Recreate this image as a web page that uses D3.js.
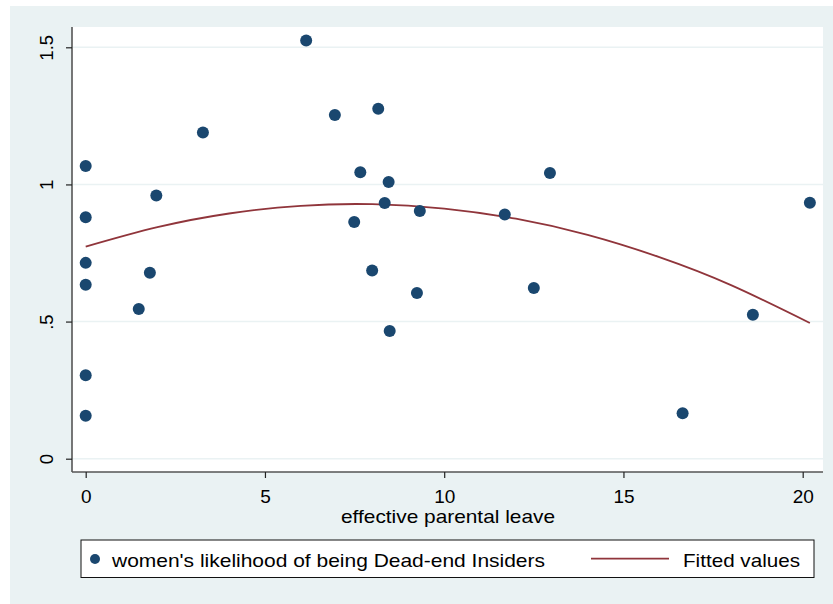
<!DOCTYPE html>
<html>
<head>
<meta charset="utf-8">
<script src="https://cdn.jsdelivr.net/npm/d3@7"></script>
<style>
  body { margin: 0; background: #fff; }
  text { font-family: "Liberation Sans", Arial, sans-serif; fill: #000; }
</style>
</head>
<body>
<div id="app"></div>
<script>
// scatter: effective parental leave vs likelihood
const leave = [0, 0, 0, 0, 0, 0, 1.48, 1.79, 1.97, 3.27, 6.15, 6.95, 7.49, 7.66, 7.99, 8.16,
  8.34, 8.45, 8.48, 9.24, 9.32, 11.69, 12.5, 12.95, 16.65, 18.61, 20.2];
const likelihood = [1.067, 0.88, 0.714, 0.634, 0.304, 0.157, 0.546, 0.678, 0.96, 1.189, 1.525, 1.253,
  0.863, 1.044, 0.686, 1.276, 0.932, 1.009, 0.466, 0.604, 0.903, 0.89, 0.622, 1.042, 0.166, 0.525, 0.933];

// fitted values (quadratic fit)
const fitX = [0, 2, 4, 6, 8, 10, 12, 14, 16, 18, 20.2];
const fitY = [0.773, 0.844, 0.894, 0.922, 0.928, 0.912, 0.875, 0.816, 0.735, 0.633, 0.495];

const xTicks = [0, 5, 10, 15, 20];
const yTicks = [0, 0.5, 1, 1.5];
const yTickLabels = ['0', '.5', '1', '1.5'];

const scatterLabel = "women's likelihood of being Dead-end Insiders";
const fitLabel = 'Fitted values';
const xTitle = 'effective parental leave';

const width = 833;
const height = 604;
const navy = '#1a476f';
const maroon = '#90353b';
const bg = '#eaf2f3';

const svg = d3.create('svg').attr('width', width).attr('height', height);

// graph region
svg.append('rect').attr('x', 10).attr('y', 6).attr('width', 823).attr('height', 598).attr('fill', bg);

// plot region
const plotL = 72, plotR = 823, plotT = 27, plotB = 472;
svg.append('rect').attr('x', plotL).attr('y', plotT).attr('width', plotR - plotL).attr('height', plotB - plotT)
  .attr('fill', '#fff');

const x = d3.scaleLinear().domain([0, 20]).range([85.7, 802.7]);
const y = d3.scaleLinear().domain([0, 1.5]).range([458.7, 47.3]);

// gridlines
svg.append('g')
  .selectAll('line')
  .data(yTicks)
  .join('line')
  .attr('x1', plotL)
  .attr('x2', plotR)
  .attr('y1', (d) => y(d))
  .attr('y2', (d) => y(d))
  .attr('stroke', bg)
  .attr('stroke-width', 1.5);

// axis Y
const axisY = d3.axisLeft(y).tickValues(yTicks).tickSize(6).tickFormat((d, i) => yTickLabels[i]);
const axisYG = svg.append('g').attr('transform', `translate(${plotL},0)`).call(axisY);
axisYG.select('.domain').attr('d', `M0,${plotT}V${plotB}`).attr('stroke', '#555').attr('stroke-width', 1.6);
axisYG.selectAll('.tick line').attr('stroke', '#222').attr('stroke-width', 1.2);
axisYG.selectAll('.tick text')
  .attr('x', null)
  .attr('dy', null)
  .attr('transform', 'translate(-19,0) rotate(-90)')
  .attr('text-anchor', 'middle')
  .attr('font-size', 18.5)
  .attr('fill', '#000');

// axis X
const axisX = d3.axisBottom(x).tickValues(xTicks).tickSize(6).tickFormat(d3.format('d'));
const axisXG = svg.append('g').attr('transform', `translate(0,${plotB})`).call(axisX);
axisXG.select('.domain').attr('d', `M${plotL},0H${plotR}`).attr('stroke', '#555').attr('stroke-width', 1.6);
axisXG.selectAll('.tick line').attr('stroke', '#222').attr('stroke-width', 1.2);
axisXG.selectAll('.tick text')
  .attr('y', 31)
  .attr('dy', null)
  .attr('font-size', 19)
  .attr('fill', '#000');

svg.append('text')
  .attr('x', (plotL + plotR) / 2 + 0.5)
  .attr('y', 523)
  .attr('text-anchor', 'middle')
  .attr('font-size', 18.5)
  .attr('textLength', 214)
  .attr('lengthAdjust', 'spacingAndGlyphs')
  .text(xTitle);

// fitted line
const line = d3.line()
  .curve(d3.curveNatural)
  .x((d) => x(d[0]))
  .y((d) => y(d[1]));

svg.append('path')
  .attr('d', line(fitX.map((v, i) => [v, fitY[i]])))
  .attr('fill', 'none')
  .attr('stroke', maroon)
  .attr('stroke-width', 1.8);

// points
svg.append('g')
  .selectAll('circle')
  .data(leave)
  .join('circle')
  .attr('cx', (d) => x(d))
  .attr('cy', (d, i) => y(likelihood[i]))
  .attr('r', 6)
  .attr('fill', navy);

// legend
const legend = svg.append('g');
legend.append('rect')
  .attr('x', 81).attr('y', 540).attr('width', 733).attr('height', 37.5)
  .attr('fill', '#fff').attr('stroke', '#111').attr('stroke-width', 1);
legend.append('circle').attr('cx', 95).attr('cy', 559).attr('r', 5).attr('fill', navy);
legend.append('text')
  .attr('x', 112).attr('y', 566.5)
  .attr('font-size', 18.5)
  .attr('textLength', 433)
  .attr('lengthAdjust', 'spacingAndGlyphs')
  .text(scatterLabel);
legend.append('line')
  .attr('x1', 591).attr('x2', 669).attr('y1', 558.7).attr('y2', 558.7)
  .attr('stroke', maroon).attr('stroke-width', 1.8);
legend.append('text')
  .attr('x', 683).attr('y', 566.5)
  .attr('font-size', 18.5)
  .attr('textLength', 117)
  .attr('lengthAdjust', 'spacingAndGlyphs')
  .text(fitLabel);

document.getElementById('app').appendChild(svg.node());
</script>
</body>
</html>
